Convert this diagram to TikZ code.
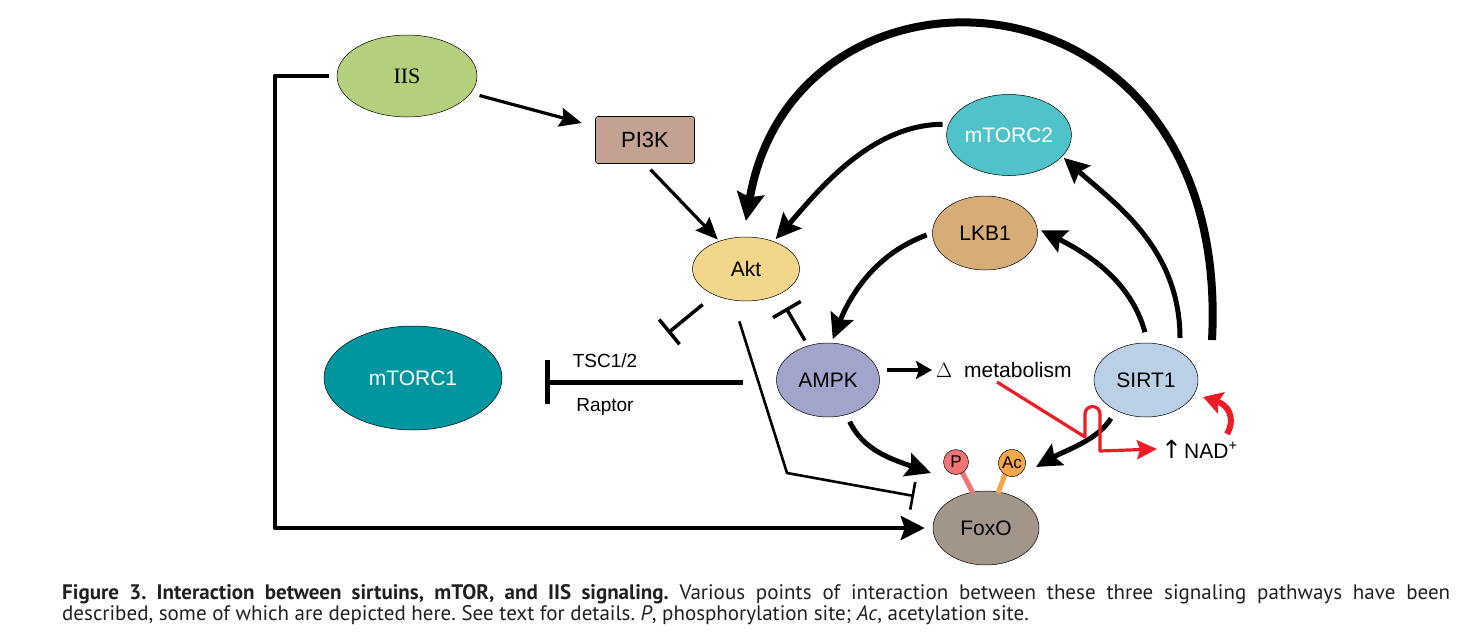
\documentclass[tikz,border=0pt]{standalone}
\usepackage{fontspec}
\setmainfont{Liberation Sans}
\newfontfamily\iisfont{Liberation Serif}
\newfontfamily\arrowfont{DejaVu Sans}
\newfontfamily\capfont{PT Sans}
\usetikzlibrary{arrows.meta,shapes.geometric}

\definecolor{iisgreen}{HTML}{B5D07C}
\definecolor{pikbrown}{HTML}{C4A291}
\definecolor{aktyellow}{HTML}{F2D68A}
\definecolor{tortwo}{HTML}{4FC3C9}
\definecolor{lkbtan}{HTML}{D6AC77}
\definecolor{torone}{HTML}{0096A0}
\definecolor{ampkblue}{HTML}{A1A5CB}
\definecolor{sirtblue}{HTML}{B9D0E6}
\definecolor{foxogrey}{HTML}{A19689}
\definecolor{siteP}{HTML}{F07474}
\definecolor{siteAc}{HTML}{F5A84A}
\definecolor{nadred}{HTML}{EE1C25}
\definecolor{captxt}{HTML}{231F20}

\begin{document}
\frenchspacing
\begin{tikzpicture}[x=1pt,y=-1pt,line join=round,
  mol/.style={ellipse,draw,line width=0.5pt,inner sep=0pt,font=\fontsize{21}{24}\selectfont},
  act/.style={-{Stealth[length=22pt,width=19pt,inset=3pt]},line width=3.2pt},
  actb/.style={-{Stealth[length=25pt,width=24pt,inset=4pt]},line width=5pt},
  acth/.style={-{Stealth[length=28pt,width=27pt,inset=4pt]},line width=8pt},
  inh/.style={-{Bar[width=32pt]},line width=3.5pt},
  inhb/.style={-{Bar[width=44pt]},line width=5pt},
  inht/.style={-{Bar[width=28pt]},line width=2.6pt},
  site/.style={circle,draw,line width=0.5pt,inner sep=0pt,minimum size=25pt,font=\fontsize{17}{18}\selectfont}]
\useasboundingbox (0,0) rectangle (1472,640);

% nodes
\node[mol,fill=iisgreen,minimum width=140pt,minimum height=82pt,font=\iisfont\fontsize{22}{24}\selectfont] (iis) at (407,76) {IIS};
\node[draw,fill=pikbrown,rounded corners=2.5pt,line width=0.6pt,minimum width=99pt,minimum height=47pt,font=\fontsize{22}{24}\selectfont] (pi3k) at (645,140) {PI3K};
\node[mol,fill=aktyellow,minimum width=107pt,minimum height=64pt] (akt) at (746,269) {Akt};
\node[mol,fill=tortwo,text=white,minimum width=122pt,minimum height=81pt] (mtorc2) at (1009,135) {mTORC2};
\node[mol,fill=lkbtan,minimum width=105pt,minimum height=74pt] (lkb1) at (985,233) {LKB1};
\node[mol,fill=torone,text=white,minimum width=178pt,minimum height=104pt] (mtorc1) at (413,378) {mTORC1};
\node[mol,fill=ampkblue,minimum width=103pt,minimum height=74pt] (ampk) at (828,380) {AMPK};
\node[mol,fill=sirtblue,minimum width=104pt,minimum height=74pt] (sirt1) at (1146,380) {SIRT1};
\node[mol,fill=foxogrey,minimum width=106pt,minimum height=74pt] (foxo) at (986,528) {FoxO};

% acetylation / phosphorylation sites
\draw[siteP,line width=5pt] (962,472) -- (973,493);
\draw[siteAc,line width=5pt] (1006,472) -- (998,493);
\node[site,fill=siteP] (p) at (956,462) {P};
\node[site,fill=siteAc,minimum size=27pt] (ac) at (1012,463) {Ac};

% labels
\node[font=\fontsize{21}{24}\selectfont,anchor=west,inner sep=0pt] (meta) at (936,370) {$\Delta$\hspace{12pt}metabolism};
\node[font=\fontsize{19}{22}\selectfont] (tsc) at (605,361) {TSC1/2};
\node[font=\fontsize{19}{22}\selectfont] (raptor) at (605,407) {Raptor};
\node[font=\fontsize{21}{24}\selectfont,anchor=west,inner sep=0pt] (nad) at (1161,449) {{\arrowfont\fontsize{25}{24}\selectfont ↑}\hspace{2pt}NAD\textsuperscript{+}};

\coordinate (tscR) at (743,382);
\coordinate (aktT) at (668,333);
\coordinate (ampkT) at (786,308);
\coordinate (kink) at (787,473);
\coordinate (foxoT) at (914,496);

% IIS branch
\draw[act,shorten <=9pt,shorten >=14pt] (iis) -- (pi3k);
\draw[act,shorten <=8pt,shorten >=2pt] (pi3k.south) -- (akt);
\draw[-{Stealth[length=24pt,width=24pt,inset=4pt]},line width=4.5pt,shorten <=8pt,shorten >=8pt] (iis.west) -- ++(-62,0) |- (foxo.west);

% inhibitions
\draw[inh,shorten <=15pt] (akt) -- (aktT);
\draw[inh,shorten <=6pt] (ampk) -- (ampkT);
\draw[inhb,shorten >=43pt] (tscR) -- (mtorc1.east |- tscR);
\draw[inht,shorten <=21pt] ([shift={(-13,0)}]akt.south) -- (kink) -- (foxoT);

% SIRT1 / AMPK loop
\draw[acth,shorten >=16pt] ([shift={(66,-40)}]sirt1.center) .. controls (1232,-45) and (795,-65) .. (akt.95);
\draw[actb,shorten <=6pt,shorten >=3pt] (mtorc2.170) .. controls +(-80,0) and +(40,-45) .. (akt.45);
\draw[actb,shorten <=4pt,shorten >=2pt] ([shift={(34,-38)}]sirt1.center) .. controls +(0,-95) and +(50,45) .. (mtorc2.-22);
\draw[actb,shorten <=4pt,shorten >=4pt] ([shift={(0,-44)}]sirt1.center) .. controls +(-15,-55) and +(50,25) .. (lkb1.5);
\draw[actb,shorten <=6pt,shorten >=4pt] (lkb1.180) .. controls +(-55,20) and +(20,-50) .. (ampk.85);
\draw[actb,shorten <=4pt] ([shift={(20,38)}]ampk.center) .. controls +(15,32) and +(-40,-14) .. ([shift={(-55,-55)}]foxo.center);
\draw[actb,shorten <=4pt] ([shift={(-33,35)}]sirt1.center) .. controls +(-15,25) and +(28,-16) .. ([shift={(50,-61)}]foxo.center);
\draw[-{Stealth[length=16pt,width=18pt,inset=3pt]},line width=3.5pt,shorten <=7pt,shorten >=4pt] (ampk.east |- meta.west) -- (meta.west);

% NAD+ branch
\draw[nadred,line width=3.2pt,-{Stealth[length=20pt,width=19pt,inset=3pt]}]
  (997,382) -- (1085,437) -- (1085,414) arc[start angle=180,end angle=0,radius=7.5pt] -- (1100,451) -- ([shift={(-4,0)}]nad.west);
\draw[nadred,line width=6pt,-{Stealth[length=19pt,width=22pt,inset=3pt]}]
  (1227,434) .. controls (1236,418) and (1228,405) .. (1203,397);

% caption
\node[anchor=north west,inner sep=0pt,text width=1388pt,align=justify,text=captxt,
  font=\capfont\fontsize{21}{21}\selectfont] (cap) at (62,584)
  {\textbf{Figure 3. Interaction between sirtuins, mTOR, and IIS signaling.} Various points of interaction between these three signaling pathways have been\linebreak described, some of which are depicted here. See text for details. \textit{P}, phosphorylation site; \textit{Ac}, acetylation site.};
\end{tikzpicture}
\end{document}
